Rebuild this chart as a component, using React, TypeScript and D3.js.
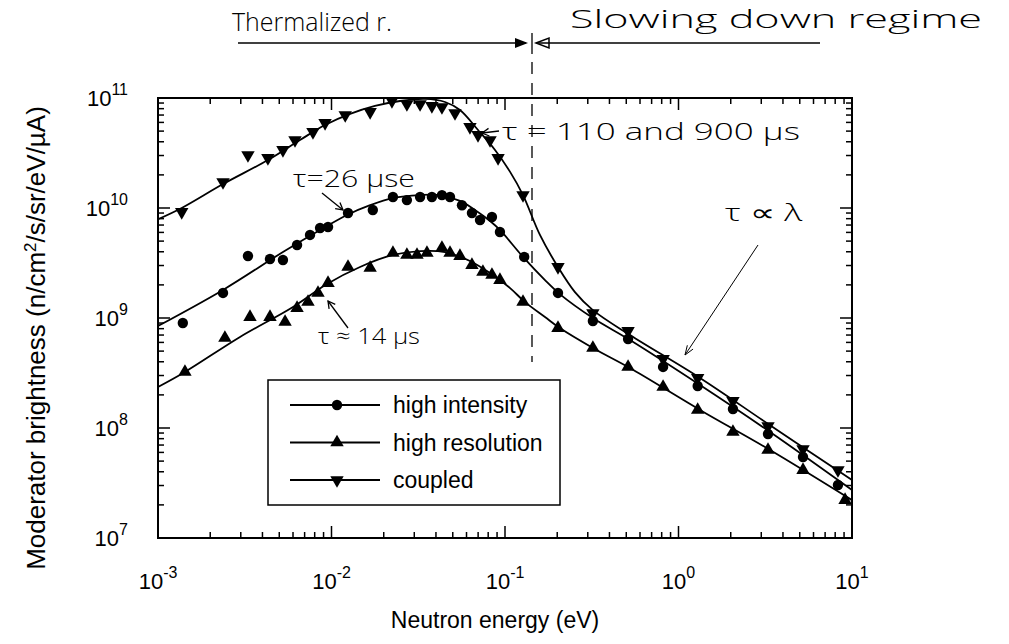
import React from 'react';
import * as d3 from 'd3';

// Plot frame (pixels)
const W = 1009;
const H = 644;
const left = 158;
const right = 852;
const top = 98;
const bottom = 538;

// Axis decades and their exponent labels
const xDecades = [1e-3, 1e-2, 1e-1, 1, 10];
const xDecadeExps = ['-3', '-2', '-1', '0', '1'];
const yDecades = [1e7, 1e8, 1e9, 1e10, 1e11];
const yDecadeExps = ['7', '8', '9', '10', '11'];

// Measured points: neutron energy (eV) and brightness (n/cm²/s/sr/eV/µA)
const intensityE = [1.39e-3, 2.37e-3, 3.3e-3, 4.42e-3, 5.25e-3, 6.33e-3, 7.52e-3, 8.59e-3, 9.55e-3, 1.245e-2, 1.73e-2, 2.26e-2, 2.72e-2, 3.24e-2, 3.79e-2, 4.33e-2, 4.82e-2, 5.65e-2, 6.45e-2, 7.18e-2, 8.41e-2, 9.35e-2, 0.129, 0.202, 0.321, 0.512, 0.815, 1.29, 2.06, 3.28, 5.22, 8.3];
const intensityB = [9.0e8, 1.69e9, 3.66e9, 3.44e9, 3.37e9, 4.61e9, 5.69e9, 6.58e9, 6.72e9, 9.0e9, 9.6e9, 1.26e10, 1.18e10, 1.26e10, 1.26e10, 1.31e10, 1.26e10, 1.06e10, 9.0e9, 7.78e9, 8.28e9, 6.05e9, 3.59e9, 1.69e9, 9.4e8, 6.44e8, 3.59e8, 2.41e8, 1.49e8, 8.82e7, 5.45e7, 3.03e7];

const resolutionE = [1.43e-3, 2.43e-3, 3.39e-3, 4.42e-3, 5.4e-3, 6.33e-3, 7.32e-3, 8.36e-3, 9.55e-3, 1.245e-2, 1.67e-2, 2.26e-2, 2.72e-2, 3.11e-2, 3.55e-2, 4.33e-2, 4.82e-2, 5.5e-2, 6.45e-2, 7.46e-2, 8.41e-2, 9.35e-2, 0.127, 0.202, 0.321, 0.512, 0.815, 1.29, 2.06, 3.28, 5.22, 9.12];
const resolutionB = [3.23e8, 6.58e8, 1.02e9, 1.02e9, 9.2e8, 1.23e9, 1.4e9, 1.69e9, 2.08e9, 2.91e9, 2.85e9, 3.9e9, 3.74e9, 3.74e9, 3.9e9, 4.33e9, 3.9e9, 3.66e9, 3.03e9, 2.62e9, 2.46e9, 2.21e9, 1.4e9, 8.1e8, 5.34e8, 3.59e8, 2.36e8, 1.46e8, 9.2e7, 6.31e7, 4.15e7, 2.21e7];

const coupledE = [1.37e-3, 2.37e-3, 3.3e-3, 4.3e-3, 5.25e-3, 6.16e-3, 7.82e-3, 9.18e-3, 1.2e-2, 1.67e-2, 2.23e-2, 2.72e-2, 3.24e-2, 3.79e-2, 4.33e-2, 5.15e-2, 6.28e-2, 6.99e-2, 8.2e-2, 9.12e-2, 0.127, 0.202, 0.321, 0.512, 0.815, 1.29, 2.06, 3.28, 5.22, 8.3];
const coupledB = [9.2e9, 1.72e10, 3.03e10, 2.85e10, 3.37e10, 4.15e10, 4.91e10, 5.93e10, 7.0e10, 7.46e10, 9.4e10, 8.8e10, 8.8e10, 8.46e10, 8.28e10, 7.3e10, 5.45e10, 4.61e10, 4.15e10, 2.85e10, 1.31e10, 2.91e9, 1.11e9, 7.62e8, 4.24e8, 2.85e8, 1.76e8, 1.04e8, 6.44e7, 4.15e7];

// Fitted curves through each data set
const intensityFitE = [1e-3, 2.37e-3, 5.25e-3, 9.42e-3, 1.23e-2, 1.67e-2, 2.26e-2, 3.24e-2, 4.22e-2, 5.5e-2, 6.71e-2, 8.2e-2, 9.35e-2, 0.127, 0.17, 0.207, 0.321, 0.525, 1.33, 3.37, 10];
const intensityFitB = [8.46e8, 1.8e9, 3.98e9, 6.86e9, 8.64e9, 1.06e10, 1.23e10, 1.31e10, 1.31e10, 1.16e10, 9.6e9, 7.62e9, 6.31e9, 3.59e9, 2.21e9, 1.65e9, 1.0e9, 6.31e8, 2.46e8, 9.2e7, 2.73e7];

const resolutionFitE = [1e-3, 1.43e-3, 2.97e-3, 6.0e-3, 9.42e-3, 1.46e-2, 2.26e-2, 3.24e-2, 4.51e-2, 6.28e-2, 8.2e-2, 0.107, 0.13, 0.17, 0.207, 0.321, 0.525, 1.33, 3.37, 10];
const resolutionFitB = [2.36e8, 3.23e8, 6.72e8, 1.26e9, 2.04e9, 2.91e9, 3.74e9, 4.06e9, 3.98e9, 3.3e9, 2.56e9, 1.87e9, 1.4e9, 1.02e9, 8.1e8, 5.34e8, 3.51e8, 1.46e8, 6.31e7, 2.21e7];

const coupledFitE = [1e-3, 1.37e-3, 2.37e-3, 4.3e-3, 6.58e-3, 9.18e-3, 1.28e-2, 1.78e-2, 2.48e-2, 3.46e-2, 4.51e-2, 5.5e-2, 6.99e-2, 8.76e-2, 0.107, 0.127, 0.159, 0.202, 0.253, 0.321, 0.525, 1.33, 3.37, 10];
const coupledFitB = [7.9e9, 1.0e10, 1.65e10, 2.73e10, 4.15e10, 5.68e10, 7.16e10, 8.46e10, 9.39e10, 9.8e10, 9.2e10, 7.78e10, 5.12e10, 3.37e10, 2.13e10, 1.31e10, 5.69e9, 2.91e9, 1.72e9, 1.18e9, 7.0e8, 2.85e8, 1.06e8, 3.37e7];

const legendLabels = ['high intensity', 'high resolution', 'coupled'];

type Shape = 'circle' | 'up' | 'down';

const series: { shape: Shape; e: number[]; b: number[]; fe: number[]; fb: number[] }[] = [
  { shape: 'circle', e: intensityE, b: intensityB, fe: intensityFitE, fb: intensityFitB },
  { shape: 'up', e: resolutionE, b: resolutionB, fe: resolutionFitE, fb: resolutionFitB },
  { shape: 'down', e: coupledE, b: coupledB, fe: coupledFitE, fb: coupledFitB },
];

const xScale = d3.scaleLog().domain([1e-3, 10]).range([left, right]);
const yScale = d3.scaleLog().domain([1e7, 1e11]).range([bottom, top]);

const isDecade = (v: number) => Math.abs(Math.log10(v) - Math.round(Math.log10(v))) < 1e-9;

const triPath = d3.symbol(d3.symbolTriangle, 78)() as string;

function Marker({ shape, x, y }: { shape: Shape; x: number; y: number }) {
  if (shape === 'circle') return <circle cx={x} cy={y} r={5.2} fill="#000" />;
  const rot = shape === 'down' ? 180 : 0;
  return <path d={triPath} transform={`translate(${x},${y}) rotate(${rot})`} fill="#000" />;
}

// V-shaped arrow head at (x2,y2) pointing away from (x1,y1)
function headPath(x1: number, y1: number, x2: number, y2: number, len: number, spread: number) {
  const a = Math.atan2(y2 - y1, x2 - x1);
  const p1 = [x2 - len * Math.cos(a - spread), y2 - len * Math.sin(a - spread)];
  const p2 = [x2 - len * Math.cos(a + spread), y2 - len * Math.sin(a + spread)];
  return `M${p1[0]},${p1[1]}L${x2},${y2}L${p2[0]},${p2[1]}`;
}

const hand = { fontFamily: "'Open Sans', 'DejaVu Sans', sans-serif", fontWeight: 300 };
const sans = "'Liberation Sans', Arial, Helvetica, sans-serif";

export default function App() {
  const line = d3
    .line<[number, number]>()
    .x((d) => xScale(d[0]))
    .y((d) => yScale(d[1]))
    .curve(d3.curveCatmullRom.alpha(0.5));

  const xTicks = xScale.ticks();
  const yTicks = yScale.ticks();

  return (
    <svg
      width={W}
      height={H}
      viewBox={`0 0 ${W} ${H}`}
      style={{ position: 'absolute', left: 0, top: 0, background: '#fff' }}
    >
      <rect width={W} height={H} fill="#fff" />

      {/* fitted curves */}
      {series.map((s, i) => (
        <path
          key={`fit-${i}`}
          d={line(s.fe.map((e, k) => [e, s.fb[k]] as [number, number])) as string}
          fill="none"
          stroke="#000"
          strokeWidth={1.8}
        />
      ))}

      {/* measured points */}
      {series.map((s, i) =>
        s.e.map((e, k) => (
          <Marker key={`m-${i}-${k}`} shape={s.shape} x={xScale(e)} y={yScale(s.b[k])} />
        ))
      )}

      {/* frame */}
      <rect x={left} y={top} width={right - left} height={bottom - top} fill="none" stroke="#000" strokeWidth={2} />

      {/* ticks on all four sides */}
      {xTicks.map((t, i) => {
        const x = xScale(t);
        const len = isDecade(t) ? 12 : 6;
        return (
          <g key={`xt-${i}`} stroke="#000" strokeWidth={1.5}>
            <line x1={x} x2={x} y1={bottom} y2={bottom - len} />
            <line x1={x} x2={x} y1={top} y2={top + len} />
          </g>
        );
      })}
      {yTicks.map((t, i) => {
        const y = yScale(t);
        const len = isDecade(t) ? 12 : 6;
        return (
          <g key={`yt-${i}`} stroke="#000" strokeWidth={1.5}>
            <line x1={left} x2={left + len} y1={y} y2={y} />
            <line x1={right} x2={right - len} y1={y} y2={y} />
          </g>
        );
      })}

      {/* tick labels */}
      {xDecades.map((v, i) => (
        <text key={`xl-${i}`} x={xScale(v)} y={589} textAnchor="middle" fontFamily={sans} fontSize={22}>
          10
          <tspan dy={-11} fontSize={16}>
            {xDecadeExps[i]}
          </tspan>
        </text>
      ))}
      {yDecades.map((v, i) => (
        <text key={`yl-${i}`} x={128} y={yScale(v) + 8} textAnchor="end" fontFamily={sans} fontSize={22}>
          10
          <tspan dy={-11} fontSize={16}>
            {yDecadeExps[i]}
          </tspan>
        </text>
      ))}

      {/* axis titles */}
      <text x={495} y={628} textAnchor="middle" fontFamily={sans} fontSize={23}>
        Neutron energy (eV)
      </text>
      <text transform="translate(45,338) rotate(-90)" textAnchor="middle" fontFamily={sans} fontSize={26}>
        Moderator brightness (n/cm
        <tspan dy={-9} fontSize={17}>
          2
        </tspan>
        <tspan dy={9}>/s/sr/eV/µA)</tspan>
      </text>

      {/* legend */}
      <rect x={268} y={380} width={292} height={125} fill="#fff" stroke="#000" strokeWidth={1.5} />
      {series.map((s, i) => {
        const y = 405 + i * 37.5;
        return (
          <g key={`lg-${i}`}>
            <line x1={290} x2={380} y1={y} y2={y} stroke="#000" strokeWidth={1.8} />
            <Marker shape={s.shape} x={337} y={y} />
            <text x={393} y={y + 8} fontFamily={sans} fontSize={23}>
              {legendLabels[i]}
            </text>
          </g>
        );
      })}

      {/* regime boundary */}
      <line x1={532} x2={532} y1={62} y2={362} stroke="#000" strokeWidth={1.3} strokeDasharray="12,9" />
      <line x1={532} x2={532} y1={33} y2={54} stroke="#000" strokeWidth={1.3} />
      <line x1={238} x2={526} y1={43} y2={43} stroke="#000" strokeWidth={1.5} />
      <path d="M528,43L515,38L515,48Z" fill="#000" />
      <line x1={538} x2={820} y1={43} y2={43} stroke="#000" strokeWidth={1.5} />
      <path d="M536,43L549,38L549,48Z" fill="none" stroke="#000" strokeWidth={1.5} />
      <text x={232} y={31} fontSize={25} {...hand} textLength={160} lengthAdjust="spacingAndGlyphs">
        Thermalized r.
      </text>
      <text x={570} y={28} fontSize={25} {...hand} textLength={412} lengthAdjust="spacingAndGlyphs">
        Slowing down regime
      </text>

      {/* moderation time notes */}
      <text x={502} y={140} fontSize={24} {...hand} textLength={298} lengthAdjust="spacingAndGlyphs">
        τ = 110 and 900 µs
      </text>
      <line x1={499} y1={131} x2={482} y2={133} stroke="#000" strokeWidth={1.3} />
      <path d={headPath(499, 131, 482, 133, 8, 0.5)} fill="none" stroke="#000" strokeWidth={1.3} />

      <text x={293} y={187} fontSize={24} {...hand} textLength={122} lengthAdjust="spacingAndGlyphs">
        τ=26 µse
      </text>
      <line x1={322} y1={193} x2={343} y2={210} stroke="#000" strokeWidth={1.3} />
      <path d={headPath(322, 193, 343, 210, 8, 0.5)} fill="none" stroke="#000" strokeWidth={1.3} />

      <text x={318} y={344} fontSize={22} {...hand} textLength={102} lengthAdjust="spacingAndGlyphs">
        τ ≈ 14 µs
      </text>
      <line x1={348} y1={328} x2={328} y2={301} stroke="#000" strokeWidth={1.3} />
      <path d={headPath(348, 328, 328, 301, 8, 0.5)} fill="none" stroke="#000" strokeWidth={1.3} />

      <text x={725} y={221} fontSize={24} {...hand} textLength={77} lengthAdjust="spacingAndGlyphs">
        τ ∝ λ
      </text>
      <line x1={758} y1={245} x2={685} y2={355} stroke="#000" strokeWidth={1} />
      <path d={headPath(758, 245, 685, 355, 10, 0.35)} fill="none" stroke="#000" strokeWidth={1} />
    </svg>
  );
}
